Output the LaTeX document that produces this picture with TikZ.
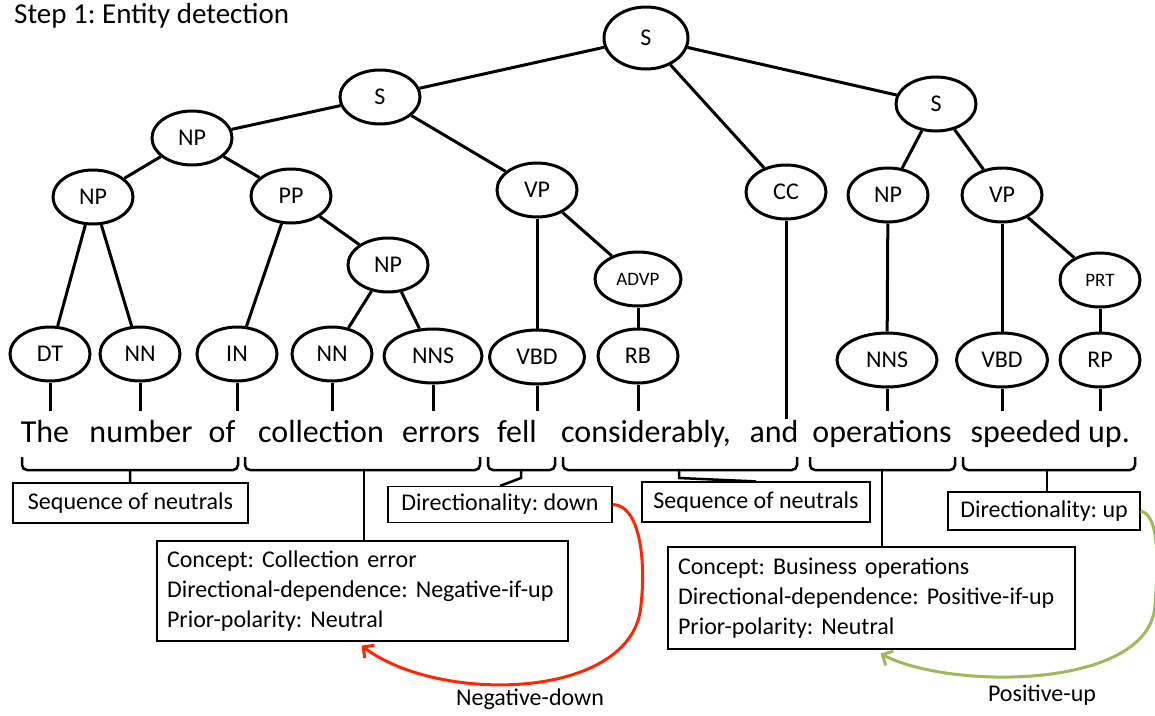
\documentclass[tikz,border=0pt]{standalone}
\usepackage{fontspec}
\setmainfont{Carlito}
\usetikzlibrary{shapes.geometric,arrows.meta}
\definecolor{redc}{RGB}{255,38,0}
\definecolor{greenc}{RGB}{155,187,89}
\frenchspacing
\begin{document}
\begin{tikzpicture}[x=1pt,y=-1pt,
  tn/.style={ellipse,draw,line width=3pt,minimum width=80pt,minimum height=54pt,inner sep=0pt,font=\fontsize{24}{28}\selectfont},
  tsm/.style={tn,font=\fontsize{19}{22}\selectfont},
  edge/.style={line width=3pt},
  word/.style={anchor=base,font=\fontsize{32}{36}\selectfont,inner xsep=0pt,inner ysep=7pt,text height=24pt,text depth=7pt},
  brace/.style={line width=2.5pt,rounded corners=5pt},
  conn/.style={line width=2.5pt},
  box/.style={draw,line width=1.2pt,inner sep=0pt,font=\fontsize{24}{30}\selectfont},
  cbox/.style={draw,line width=1.2pt,inner xsep=10pt,inner ysep=0pt,align=left,font=\fontsize{24}{30}\selectfont},
  lab/.style={font=\fontsize{24}{30}\selectfont},
  curve/.style={line width=3pt,-{Straight Barb[length=8pt,width=16pt]}}
]
\useasboundingbox (0,0) rectangle (1155,715);

\node[anchor=base west,font=\fontsize{29}{34}\selectfont,inner sep=0pt] (title) at (14,23) {Step 1: Entity detection};

% tree
\node[tn,minimum width=84pt,minimum height=62pt] (S0) at (646,38) {S};
\node[tn] (S1) at (380,97) {S};
\node[tn] (S2) at (936,104) {S};
\node[tn] (NP1) at (192,138) {NP};
\node[tn] (NP2) at (93,197) {NP};
\node[tn] (PP) at (291,196) {PP};
\node[tn] (VP1) at (537,190) {VP};
\node[tn] (CC) at (786,192) {CC};
\node[tn] (NP4) at (888,195) {NP};
\node[tn] (VP2) at (1002,195) {VP};
\node[tn] (NP3) at (388,265) {NP};
\node[tsm,minimum width=86pt] (ADVP) at (638,279) {ADVP};
\node[tsm] (PRT) at (1100,280) {PRT};
\node[tn] (DT) at (50,354) {DT};
\node[tn] (NN1) at (140,354) {NN};
\node[tn] (IN) at (237,354) {IN};
\node[tn] (NN2) at (332,354) {NN};
\node[tn,minimum width=98pt] (NNS1) at (433,356) {NNS};
\node[tn,minimum width=95pt] (VBD1) at (537,357) {VBD};
\node[tn] (RB) at (638,356) {RB};
\node[tn,minimum width=100pt] (NNS2) at (887,360) {NNS};
\node[tn,minimum width=91pt] (VBD2) at (1002,360) {VBD};
\node[tn] (RP) at (1100,360) {RP};

\draw[edge] (S0) -- (S1);
\draw[edge] (S0) -- (CC);
\draw[edge] (S0) -- (S2);
\draw[edge] (S1) -- (NP1);
\draw[edge] (S1) -- (VP1);
\draw[edge] (NP1) -- (NP2);
\draw[edge] (NP1) -- (PP);
\draw[edge] (NP2) -- (DT);
\draw[edge] (NP2) -- (NN1);
\draw[edge] (PP) -- (IN);
\draw[edge] (PP) -- (NP3);
\draw[edge] (NP3) -- (NN2);
\draw[edge] (NP3) -- (NNS1);
\draw[edge] (VP1) -- (VBD1);
\draw[edge] (VP1) -- (ADVP);
\draw[edge] (ADVP) -- (RB);
\draw[edge] (S2) -- (NP4);
\draw[edge] (S2) -- (VP2);
\draw[edge] (NP4) -- (NNS2);
\draw[edge] (VP2) -- (VBD2);
\draw[edge] (VP2) -- (PRT);
\draw[edge] (PRT) -- (RP);

% words
\node[word] (w1) at (45,442) {The};
\node[word] (w2) at (141,442) {number};
\node[word] (w3) at (222,442) {of};
\node[word] (w4) at (321,442) {collection};
\node[word] (w5) at (441,442) {errors};
\node[word] (w6) at (517,442) {fell};
\node[word] (w7) at (646,442) {considerably,};
\node[word] (w8) at (774,442) {and};
\node[word] (w9) at (882,442) {operations};
\node[word] (w10) at (1026,442) {speeded};
\node[word] (w11) at (1109,442) {up.};

\draw[edge] (DT.south) -- (DT.south |- w1.north);
\draw[edge] (NN1.south) -- (NN1.south |- w2.north);
\draw[edge] (IN.south) -- (IN.south |- w3.north);
\draw[edge] (NN2.south) -- (NN2.south |- w4.north);
\draw[edge] (NNS1.south) -- (NNS1.south |- w5.north);
\draw[edge] (VBD1.south) -- (VBD1.south |- w6.north);
\draw[edge] (RB.south) -- (RB.south |- w7.north);
\draw[edge] (CC.south) -- ([yshift=-8pt]CC.south |- w8.north);
\draw[edge] (NNS2.south) -- (NNS2.south |- w9.north);
\draw[edge] (VBD2.south) -- (VBD2.south |- w10.north);
\draw[edge] (RP.south) -- (RP.south |- w11.north);

% braces
\coordinate (b1) at (130,470);
\coordinate (b2) at (364,470);
\coordinate (b3) at (521,470);
\coordinate (b4) at (679,470);
\coordinate (b5) at (882,470);
\coordinate (b6) at (1047,470);
\draw[brace] (22,457) |- (238,470) -- (238,457);
\draw[brace] (245,457) |- (480,470) -- (480,457);
\draw[brace] (488,457) |- (555,470) -- (555,457);
\draw[brace] (563,457) |- (797,470) -- (797,457);
\draw[brace] (810,457) |- (955,470) -- (955,457);
\draw[brace] (963,457) |- (1135,470) -- (1135,457);

% boxes
\node[box,minimum width=235pt,minimum height=40pt] (A) at (130.5,503) {Sequence of neutrals};
\node[box,minimum width=224pt,minimum height=36pt] (B) at (500,504.5) {Directionality: down};
\node[box,minimum width=228pt,minimum height=40pt] (C) at (756,502) {Sequence of neutrals};
\node[box,minimum width=192pt,minimum height=38pt] (D) at (1044,511) {Directionality: up};
\node[cbox,text width=391pt,minimum height=100pt] (E) at (362.5,591) {Concept: Collection error\\Directional-dependence: Negative-if-up\\Prior-polarity: Neutral};
\node[cbox,text width=387pt,minimum height=102pt] (F) at (871.5,598) {Concept: Business operations\\Directional-dependence: Positive-if-up\\Prior-polarity: Neutral};

\draw[conn] (b1) -- (A);
\draw[conn] (b2) -- (b2 |- E.north);
\draw[conn] (b3) -- ++(0,8) -- (B.north);
\draw[conn] (b4) -- ++(0,8) -- (C.north);
\draw[conn] (b5) -- (b5 |- F.north);
\draw[conn] (b6) -- (b6 |- D.north);

% curved arrows
\draw[curve,redc] (B.east) .. controls (640,505) and (646,560) .. (641,605) .. controls (634,700) and (440,705) .. ([xshift=-1pt,yshift=-4pt]E.south);
\draw[curve,greenc] (D.east) .. controls (1160,515) and (1158,565) .. (1155,605) .. controls (1150,690) and (950,690) .. ([xshift=9pt,yshift=-4pt]F.south);

\node[lab] (negl) at (530,699) {Negative-down};
\node[lab] (posl) at (1042,695) {Positive-up};
\end{tikzpicture}
\end{document}
